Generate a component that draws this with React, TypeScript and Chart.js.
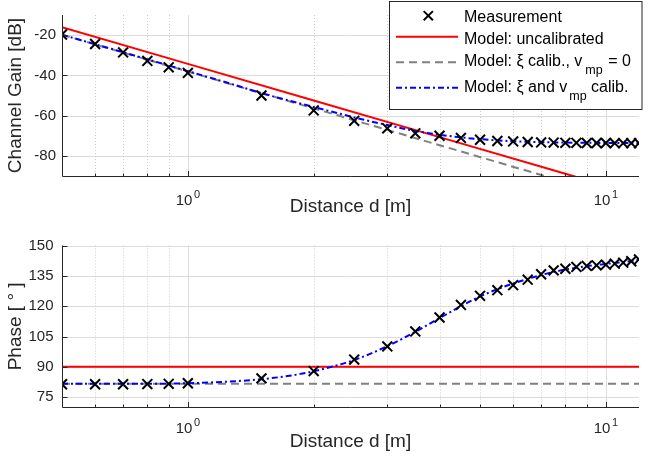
import React, { useEffect, useRef } from "react";
import { Chart, registerables } from "chart.js";

Chart.register(...registerables);

// ---- data ----------------------------------------------------------------
// Measured channel (distance in metres)
const measDistance = [0.5, 0.6, 0.7, 0.8, 0.9, 1.0, 1.5, 2, 2.5, 3, 3.5, 4, 4.5, 5, 5.5, 6, 6.5, 7, 7.5, 8, 8.5, 9, 9.5, 10, 10.5, 11, 11.5, 12];
const measGain = [-19.7, -24.4, -28.6, -32.8, -36.0, -38.8, -50.0, -57.4, -62.6, -66.3, -68.8, -70.0, -71.1, -72.0, -72.6, -72.8, -73.1, -73.3, -73.4, -73.5, -73.5, -73.6, -73.6, -73.6, -73.7, -73.7, -73.7, -73.7];
const measPhase = [81.4, 81.4, 81.4, 81.5, 81.6, 81.9, 84.3, 87.9, 93.6, 100.1, 107.5, 114.4, 120.6, 125.1, 127.9, 130.4, 133.1, 135.8, 137.7, 138.5, 139.4, 139.9, 140.2, 140.5, 141.0, 141.5, 142.2, 143.1];

// Model with xi and v_mp calibrated
const modelDistance = [0.5, 0.6, 0.7, 0.8, 0.9, 1, 1.25, 1.5, 1.75, 2, 2.5, 3, 3.5, 4, 4.5, 5, 5.5, 6, 6.5, 7, 7.5, 8, 9, 10, 11, 12];
const gainCalibrated = [-19.8, -24.5, -28.5, -32.0, -35.1, -37.9, -43.8, -48.8, -52.6, -55.7, -60.9, -64.7, -67.6, -69.5, -70.8, -71.7, -72.3, -72.7, -73.0, -73.2, -73.3, -73.4, -73.5, -73.6, -73.6, -73.7];
const phaseCalibrated = [81.6, 81.6, 81.6, 81.6, 81.7, 81.9, 82.7, 83.9, 85.6, 87.8, 93.4, 100.2, 107.3, 114.1, 120.0, 124.8, 128.4, 131.2, 133.5, 135.4, 136.9, 138.1, 139.8, 140.9, 141.8, 142.9];

// Uncalibrated model and xi-only model
const lineDistance = [0.5, 1, 2, 4, 8, 12];
const gainUncalibrated = [-16.1, -34.3, -52.5, -70.7, -88.9, -99.5];
const gainXiCalibrated = [-19.8, -38.1, -56.4, -74.7, -93.0, -103.7];
const phaseUncalibrated = [90, 90, 90, 90, 90, 90];
const phaseXiCalibrated = [81.6, 81.6, 81.6, 81.6, 81.6, 81.6];

// Axis ticks
const gainTicks = [-80, -60, -40, -20];
const phaseTicks = [75, 90, 105, 120, 135, 150];
const decadeTicks = [1, 10];
const decadeExponents = ["0", "1"];
const minorTicks = [0.6, 0.7, 0.8, 0.9, 2, 3, 4, 5, 6, 7, 8, 9];

// Legend entries: text pieces drawn one after another (gap before each piece, subscripts flagged)
const legendRows: { text: string; gap?: number; sub?: boolean }[][] = [
  [{ text: "Measurement" }],
  [{ text: "Model: uncalibrated" }],
  [{ text: "Model: \u03BE calib., v" }, { text: "mp", gap: 3, sub: true }, { text: "= 0", gap: 5.5 }],
  [{ text: "Model: \u03BE and v" }, { text: "mp", gap: 2, sub: true }, { text: "calib.", gap: 4.5 }],
];

// ---- styling -------------------------------------------------------------
const FONT = '"Liberation Sans", Arial, Helvetica, sans-serif';
const INK = "#262626";
const GRID = "#dcdcdc";
const MINOR_GRID = "#cccccc";
const RED = "#ff0000";
const GRAY = "#808080";
const BLUE = "#0000ff";

Chart.defaults.font.family = FONT;

const pts = (xs: number[], ys: number[]) => xs.map((x, i) => ({ x, y: ys[i] }));

type Panel = {
  width: number;
  height: number;
  padTop: number;
  xAxisHeight: number;
  yMin: number;
  yMax: number;
  yTicks: number[];
  yTitle: string;
  yTickPad: number;
  xTitlePad: number;
  xLabelOffset: number;
  supRaise: number;
  gain: boolean;
  legend: boolean;
};

function drawLegend(ctx: CanvasRenderingContext2D) {
  ctx.save();
  const bx = 389.5, by = 1.5, bw = 252.5, bh = 108;
  ctx.fillStyle = "#ffffff";
  ctx.fillRect(bx, by, bw, bh);
  ctx.strokeStyle = INK;
  ctx.lineWidth = 1;
  ctx.strokeRect(bx, by, bw, bh);

  const lx0 = 396, lx1 = 458;
  // cross marker
  ctx.strokeStyle = "#000";
  ctx.lineWidth = 2;
  ctx.beginPath();
  const cx = 428.3, cy = 15.7, r = 4.6;
  ctx.moveTo(cx - r, cy - r); ctx.lineTo(cx + r, cy + r);
  ctx.moveTo(cx + r, cy - r); ctx.lineTo(cx - r, cy + r);
  ctx.stroke();
  // sample lines
  const samples: [string, number[], number][] = [
    [RED, [], 36.7],
    [GRAY, [8, 5], 62.3],
    [BLUE, [6, 3, 2, 3], 87.7],
  ];
  for (const [color, dash, y] of samples) {
    ctx.strokeStyle = color;
    ctx.setLineDash(dash);
    ctx.beginPath();
    ctx.moveTo(lx0, y);
    ctx.lineTo(lx1, y);
    ctx.stroke();
  }
  ctx.setLineDash([]);

  // labels
  const baselines = [21.7, 44, 65.7, 91.7];
  ctx.fillStyle = "#000";
  ctx.textAlign = "left";
  ctx.textBaseline = "alphabetic";
  legendRows.forEach((row, i) => {
    let x = 464;
    for (const seg of row) {
      x += seg.gap ?? 0;
      ctx.font = seg.sub ? `12.5px ${FONT}` : `16px ${FONT}`;
      ctx.fillText(seg.text, x, baselines[i] + (seg.sub ? 8.5 : 0));
      x += ctx.measureText(seg.text).width;
    }
  });
  ctx.restore();
}

function decorPlugin(p: Panel) {
  return {
    id: "axesDecor",
    beforeDatasetsDraw(chart: any) {
      const { ctx, chartArea: a } = chart;
      const xs = chart.scales.x, ys = chart.scales.y;
      ctx.save();
      ctx.lineWidth = 1;
      ctx.strokeStyle = GRID;
      ctx.beginPath();
      for (const v of p.yTicks) {
        const y = Math.round(ys.getPixelForValue(v)) + 0.5;
        ctx.moveTo(a.left, y);
        ctx.lineTo(a.right, y);
      }
      for (const v of decadeTicks) {
        const x = Math.round(xs.getPixelForValue(v)) + 0.5;
        ctx.moveTo(x, a.top);
        ctx.lineTo(x, a.bottom);
      }
      ctx.stroke();
      ctx.strokeStyle = MINOR_GRID;
      ctx.setLineDash([1, 2]);
      ctx.beginPath();
      for (const v of minorTicks) {
        const x = Math.round(xs.getPixelForValue(v)) + 0.5;
        ctx.moveTo(x, a.top);
        ctx.lineTo(x, a.bottom);
      }
      ctx.stroke();
      ctx.restore();
    },
    afterDatasetsDraw(chart: any) {
      const { ctx, chartArea: a } = chart;
      const xs = chart.scales.x, ys = chart.scales.y;
      ctx.save();
      ctx.strokeStyle = INK;
      ctx.lineWidth = 1;
      const left = Math.round(a.left) + 0.5;
      const bottom = Math.round(a.bottom) + 0.5;
      ctx.beginPath();
      ctx.moveTo(left, a.top);
      ctx.lineTo(left, bottom);
      ctx.lineTo(a.right, bottom);
      // y ticks (inward)
      for (const v of p.yTicks) {
        const y = Math.round(ys.getPixelForValue(v)) + 0.5;
        ctx.moveTo(left, y);
        ctx.lineTo(left + 5, y);
      }
      // x ticks (inward)
      for (const v of decadeTicks) {
        const x = Math.round(xs.getPixelForValue(v)) + 0.5;
        ctx.moveTo(x, bottom);
        ctx.lineTo(x, bottom - 5.5);
      }
      for (const v of minorTicks) {
        const x = Math.round(xs.getPixelForValue(v)) + 0.5;
        ctx.moveTo(x, bottom);
        ctx.lineTo(x, bottom - 3);
      }
      ctx.stroke();

      // decade labels 10^n
      ctx.fillStyle = INK;
      ctx.textAlign = "left";
      ctx.textBaseline = "alphabetic";
      decadeTicks.forEach((v, i) => {
        const px = xs.getPixelForValue(v);
        ctx.font = `15px ${FONT}`;
        const w1 = ctx.measureText("10").width;
        ctx.font = `11px ${FONT}`;
        const w2 = ctx.measureText(decadeExponents[i]).width;
        const gap = 1.5;
        const x0 = px - (w1 + gap + w2) / 2;
        const yb = a.bottom + p.xLabelOffset;
        ctx.font = `15px ${FONT}`;
        ctx.fillText("10", x0, yb);
        ctx.font = `11px ${FONT}`;
        ctx.fillText(decadeExponents[i], x0 + w1 + gap, yb - p.supRaise);
      });
      ctx.restore();
    },
    afterDraw(chart: any) {
      if (p.legend) drawLegend(chart.ctx);
    },
  };
}

function makeConfig(p: Panel): any {
  const gainSets = p.gain;
  const datasets = [
    {
      label: "Measurement",
      data: pts(measDistance, gainSets ? measGain : measPhase),
      showLine: false,
      pointStyle: "crossRot",
      pointRadius: 7,
      pointBorderWidth: 2,
      pointBorderColor: "#000",
      pointBackgroundColor: "#000",
      borderColor: "#000",
      order: 0,
    },
    {
      label: "Model: \u03BE and v_mp calib.",
      data: pts(modelDistance, gainSets ? gainCalibrated : phaseCalibrated),
      borderColor: BLUE,
      borderWidth: 2,
      borderDash: [6, 3, 2, 3],
      pointRadius: 0,
      cubicInterpolationMode: "monotone",
      order: 1,
    },
    {
      label: "Model: uncalibrated",
      data: pts(lineDistance, gainSets ? gainUncalibrated : phaseUncalibrated),
      borderColor: RED,
      borderWidth: 2,
      pointRadius: 0,
      order: 2,
    },
    {
      label: "Model: \u03BE calib., v_mp = 0",
      data: pts(lineDistance, gainSets ? gainXiCalibrated : phaseXiCalibrated),
      borderColor: GRAY,
      borderWidth: 2,
      borderDash: [8, 5],
      pointRadius: 0,
      order: 3,
    },
  ];

  return {
    type: "line",
    data: { datasets },
    options: {
      responsive: false,
      animation: false,
      events: [],
      layout: { padding: { left: 0, right: 6, top: p.padTop, bottom: 0 } },
      plugins: { legend: { display: false }, tooltip: { enabled: false } },
      scales: {
        x: {
          type: "logarithmic",
          min: 0.5,
          max: 12,
          grid: { display: false, drawTicks: false },
          border: { display: false },
          ticks: { display: false },
          title: {
            display: true,
            text: "Distance d [m]",
            color: INK,
            font: { size: 19, family: FONT },
            padding: { top: 0, bottom: p.xTitlePad },
          },
          afterFit: (s: any) => {
            s.height = p.xAxisHeight;
          },
        },
        y: {
          type: "linear",
          min: p.yMin,
          max: p.yMax,
          grid: { display: false, drawTicks: false },
          border: { display: false },
          ticks: {
            color: INK,
            font: { size: 15, family: FONT },
            padding: p.yTickPad,
          },
          afterBuildTicks: (s: any) => {
            s.ticks = p.yTicks.map((v) => ({ value: v }));
          },
          title: {
            display: true,
            text: p.yTitle,
            color: INK,
            font: { size: 19, family: FONT },
            padding: { top: 4, bottom: 0 },
          },
          afterFit: (s: any) => {
            s.width = 62;
          },
        },
      },
    },
    plugins: [decorPlugin(p)],
  };
}

const gainPanel: Panel = {
  width: 648,
  height: 228,
  padTop: 11.7,
  xAxisHeight: 52,
  yMin: -90,
  yMax: -10,
  yTicks: gainTicks,
  yTitle: "Channel Gain [dB]",
  yTickPad: 6,
  xTitlePad: 9.5,
  xLabelOffset: 29,
  supRaise: 6.7,
  gain: true,
  legend: true,
};

const phasePanel: Panel = {
  width: 648,
  height: 229,
  padTop: 16,
  xAxisHeight: 49.7,
  yMin: 70,
  yMax: 150,
  yTicks: phaseTicks,
  yTitle: "Phase [ \u00B0 ]",
  yTickPad: 8.5,
  xTitlePad: 4,
  xLabelOffset: 26,
  supRaise: 7,
  gain: false,
  legend: false,
};

export default function App() {
  const gainRef = useRef<HTMLCanvasElement>(null);
  const phaseRef = useRef<HTMLCanvasElement>(null);

  useEffect(() => {
    const c1 = new Chart(gainRef.current!, makeConfig(gainPanel));
    const c2 = new Chart(phaseRef.current!, makeConfig(phasePanel));
    return () => {
      c1.destroy();
      c2.destroy();
    };
  }, []);

  return (
    <div style={{ position: "absolute", left: 0, top: 0, width: 648, height: 457, background: "#fff" }}>
      <canvas
        ref={gainRef}
        width={gainPanel.width}
        height={gainPanel.height}
        style={{ position: "absolute", left: 0, top: 0, display: "block" }}
      />
      <canvas
        ref={phaseRef}
        width={phasePanel.width}
        height={phasePanel.height}
        style={{ position: "absolute", left: 0, top: gainPanel.height, display: "block" }}
      />
    </div>
  );
}
